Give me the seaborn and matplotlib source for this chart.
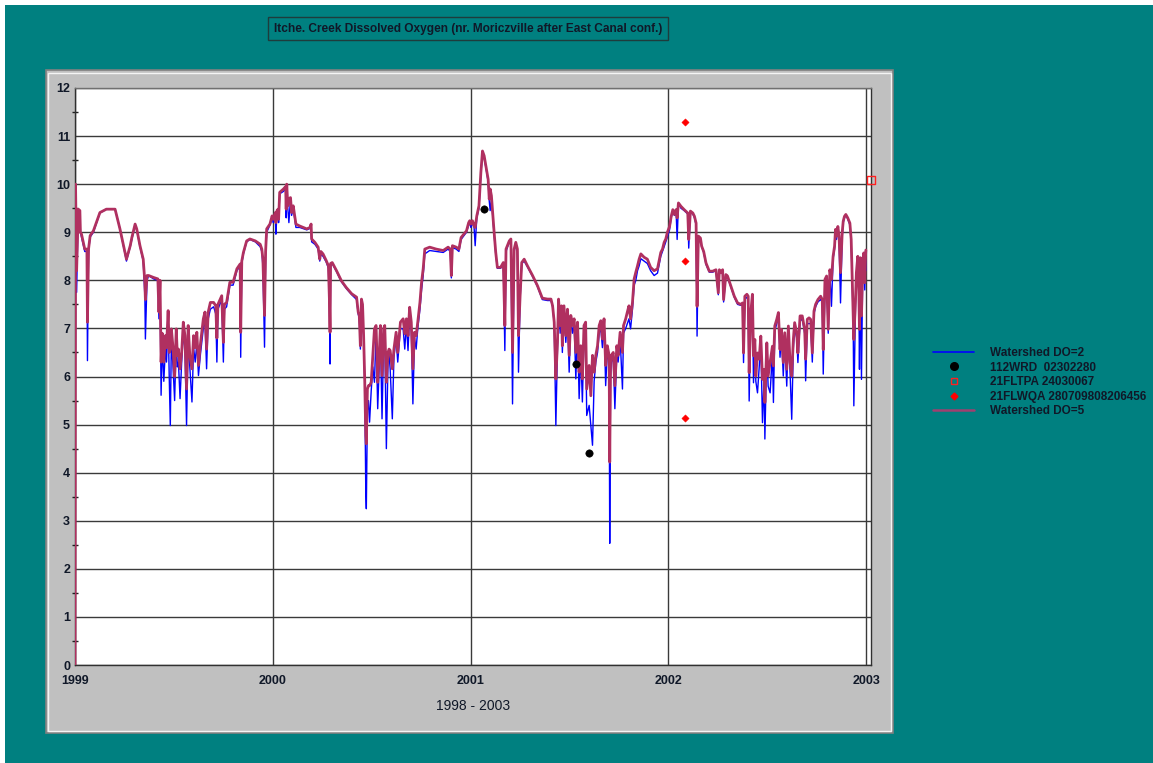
import numpy as np
import pandas as pd
import matplotlib
matplotlib.use("Agg")
import matplotlib.pyplot as plt
from matplotlib.patches import Rectangle
from matplotlib.lines import Line2D
import seaborn as sns

# ---------------- data ----------------
days_1999 = [0, 1, 3, 6, 9, 10, 12, 18, 22, 23, 25, 28, 34, 46, 58, 74, 83, 95, 102, 105, 111, 114, 120, 126, 129, 130,
             133, 136, 145, 153, 155, 157, 159, 161, 164, 167, 169, 172, 174, 176, 178, 181, 184, 187, 189, 191, 194, 197,
             200, 203, 206, 209, 212, 216, 219, 222, 225, 228, 232, 237, 240, 243, 246, 250, 256, 260, 262, 264, 271, 274,
             276, 280, 286, 292, 299, 305, 306, 308, 311, 317, 323, 333, 342, 345, 347, 350, 352, 354, 360, 364]
do5_1999 = [0, 10.0, 8.2, 9.48, 9.45, 9.0, 8.96, 8.65, 8.65, 7.13, 8.65, 8.93, 9.03, 9.41, 9.48, 9.48, 9.07, 8.44, 8.72, 8.89,
            9.17, 9.07, 8.72, 8.44, 7.96, 7.6, 8.1, 8.1, 8.06, 8.03, 7.34, 8.0, 6.3, 6.9, 6.3, 6.85, 6.6, 7.37, 6.5, 6.57,
            6.99, 6.6, 6.0, 6.99, 6.44, 6.57, 6.16, 6.5, 7.13, 6.85, 5.74, 7.06, 6.44, 6.16, 6.85, 6.6, 6.92, 6.23, 6.71,
            7.2, 7.34, 6.57, 7.34, 7.54, 7.54, 7.47, 6.8, 7.5, 7.68, 6.71, 7.5, 7.54, 7.96, 7.96, 8.24, 8.34, 6.92, 8.4,
            8.58, 8.82, 8.86, 8.82, 8.75, 8.65, 8.44, 7.27, 8.6, 9.07, 9.17, 9.34]
do2_1999 = [0, 10.0, 7.75, 9.48, 9.45, 9.0, 8.9, 8.6, 8.6, 6.33, 8.6, 8.9, 9.0, 9.4, 9.48, 9.48, 9.07, 8.4, 8.7, 8.85,
            9.15, 9.05, 8.7, 8.4, 7.68, 6.78, 8.0, 8.1, 8.03, 8.0, 7.2, 7.9, 5.61, 6.7, 5.9, 6.6, 6.3, 7.2, 6.0, 4.98,
            6.8, 6.2, 5.5, 6.8, 6.2, 6.3, 5.54, 6.3, 6.9, 6.6, 4.98, 6.8, 6.2, 5.47, 6.6, 6.3, 6.7, 6.02, 6.5,
            7.0, 7.2, 6.16, 7.2, 7.4, 7.45, 7.3, 6.3, 7.4, 7.6, 6.3, 7.4, 7.45, 7.9, 7.9, 8.2, 8.3, 6.4, 8.35,
            8.55, 8.8, 8.85, 8.8, 8.7, 8.6, 8.3, 6.61, 8.5, 9.0, 9.15, 9.3]

days_2000 = [1, 5, 6, 8, 10, 11, 13, 20, 24, 25, 26, 28, 30, 33, 35, 38, 43, 50, 63, 69, 71, 72, 78, 84, 87, 89, 93, 99,
             103, 105, 106, 107, 110, 118, 127, 136, 146, 155, 158, 160, 162, 164, 166, 168, 170, 172, 173, 175, 177,
             179, 182, 185, 188, 191, 194, 197, 199, 202, 205, 207, 210, 213, 215, 217, 221, 224, 228, 231, 236, 241,
             244, 247, 250, 253, 256, 259, 262, 265, 268, 272, 275, 278, 281, 290, 302, 315, 324, 328, 330, 332, 339,
             344, 348, 358, 362, 364]
do5_2000 = [9.27, 9.41, 9.2, 9.45, 9.48, 9.27, 9.83, 9.9, 9.95, 9.48, 10.0, 9.55, 9.7, 9.72, 9.41, 9.55, 9.17, 9.13, 9.07,
            9.1, 9.17, 8.86, 8.79, 8.69, 8.44, 8.6, 8.55, 8.41, 8.3, 7.54, 6.92, 8.35, 8.37, 8.2, 7.99, 7.85, 7.72, 7.65,
            7.34, 7.27, 6.64, 7.61, 7.5, 6.85, 5.95, 4.77, 4.6, 5.74, 5.81, 5.81, 5.88, 6.44, 6.99, 7.06, 5.88, 6.5, 7.06,
            6.02, 7.0, 7.06, 5.88, 6.5, 6.57, 6.54, 6.16, 6.57, 6.92, 6.5, 7.13, 7.2, 6.89, 7.2, 6.85, 7.44, 7.13, 6.16,
            6.92, 6.85, 7.13, 7.54, 7.96, 8.24, 8.65, 8.69, 8.65, 8.62, 8.69, 8.65, 8.1, 8.72, 8.69, 8.65, 8.89, 9.03,
            9.2, 9.24]
do2_2000 = [9.2, 9.3, 8.96, 9.4, 9.45, 9.2, 9.8, 9.85, 9.9, 9.3, 9.95, 9.5, 9.2, 9.7, 9.35, 9.5, 9.1, 9.1, 9.05,
            9.08, 9.15, 8.8, 8.75, 8.65, 8.4, 8.55, 8.5, 8.38, 8.25, 7.4, 6.26, 8.3, 8.35, 8.18, 7.97, 7.83, 7.7, 7.6,
            7.3, 7.2, 6.57, 7.55, 7.4, 6.8, 5.9, 3.6, 3.25, 5.3, 5.5, 5.05, 5.7, 6.2, 5.88, 6.9, 5.33, 6.3, 6.9,
            5.12, 6.8, 6.9, 4.5, 6.3, 6.44, 6.16, 5.12, 6.4, 6.8, 6.3, 7.0, 6.99, 6.57, 7.1, 6.54, 7.3, 6.99, 5.43,
            6.8, 6.57, 7.0, 7.4, 7.8, 8.1, 8.55, 8.62, 8.6, 8.58, 8.65, 8.6, 8.05, 8.68, 8.65, 8.6, 8.85, 9.0,
            9.15, 9.2]

days_2001 = [0, 3, 6, 8, 11, 15, 18.5, 21.5, 24.6, 27.7, 32, 34, 35.7, 38, 40, 43, 46, 49, 55, 60, 62.8, 65, 71, 74, 77,
             80, 83, 86, 88, 91, 94, 98.5, 104.6, 114, 123, 132, 141.6, 148, 151, 154, 157, 160, 162, 165, 167.4, 169,
             172, 175.4, 178.5, 181.6, 184.6, 187.7, 190.8, 193.9, 197, 200, 203, 206, 209, 212, 214, 218.5, 221.6,
             224.7, 227.7, 230.8, 234, 237, 240, 243, 246, 249, 252, 255.4, 256.5, 258, 259.7, 263, 266, 269.6, 272,
             275.7, 280, 282, 286, 289, 292, 295, 298.5, 301.6, 304.7, 307.8, 310.8, 314, 320, 326, 332, 338.5,
             344.7, 350.8, 354, 357, 360, 363]
do5_2001 = [9.17, 9.24, 9.13, 9.1, 9.34, 9.55, 10.24, 10.69, 10.59, 10.38, 10.1, 9.69, 9.9, 9.76, 9.45, 9.0, 8.58, 8.27,
            8.27, 8.37, 7.06, 8.65, 8.82, 8.86, 6.5, 8.65, 8.79, 8.65, 6.85, 7.68, 8.37, 8.44, 8.3, 8.1, 7.89, 7.63,
            7.61, 7.61, 7.47, 7.13, 5.95, 6.71, 7.61, 7.06, 7.47, 6.64, 7.47, 6.85, 7.4, 6.44, 7.27, 7.06, 7.2, 6.5,
            7.13, 6.09, 6.64, 5.95, 7.06, 7.13, 5.74, 6.23, 5.6, 6.44, 6.09, 6.44, 6.64, 7.06, 7.16, 6.78, 7.2, 6.23,
            6.64, 6.44, 4.22, 6.3, 6.44, 6.5, 5.81, 6.64, 6.44, 6.92, 6.5, 7.06, 7.2, 7.34, 7.47, 7.2, 7.54, 8.03,
            8.17, 8.3, 8.44, 8.55, 8.48, 8.44, 8.27, 8.2, 8.24, 8.58, 8.65, 8.79, 8.86, 9.0]
do2_2001 = [9.1, 9.2, 9.1, 8.72, 9.3, 9.5, 10.2, 10.65, 10.55, 10.35, 10.05, 9.65, 9.45, 9.7, 9.4, 8.95, 8.55, 8.25,
            8.25, 8.35, 6.54, 8.6, 8.8, 8.84, 5.43, 8.6, 8.75, 8.6, 6.09, 7.6, 8.35, 8.4, 8.28, 8.08, 7.87, 7.6,
            7.58, 7.58, 7.45, 7.1, 4.98, 6.6, 7.55, 6.9, 7.4, 6.5, 7.4, 6.71, 7.3, 6.09, 7.2, 6.9, 7.1, 5.95,
            7.0, 5.54, 6.5, 5.47, 6.9, 7.0, 5.19, 5.4, 4.98, 4.57, 5.9, 6.3, 6.5, 6.9, 7.0, 6.6, 7.1, 5.81,
            6.5, 6.3, 2.53, 6.0, 6.3, 6.4, 5.33, 6.5, 6.3, 6.8, 5.74, 6.9, 7.0, 7.1, 7.2, 6.99, 7.4, 7.9,
            8.0, 8.2, 8.3, 8.45, 8.4, 8.35, 8.2, 8.1, 8.15, 8.5, 8.6, 8.7, 8.8, 8.9]

days_2002 = [2, 5, 8, 11, 14, 16, 18.4, 23, 29, 35.6, 37.4, 40.5, 45, 48, 51, 52.8, 55.2, 59, 61.3, 65, 69.3, 75.4,
             81.6, 87.7, 92, 94, 97, 100, 101.8, 106, 109, 115.3, 121.5, 127.6, 133.7, 136.8, 138.6, 141, 144.8,
             147.2, 149, 152, 155, 157, 159.5, 161.3, 164.4, 167.5, 170.5, 173.6, 176.7, 178, 181.6, 184, 187.7, 192,
             193.8, 196.3, 200, 203, 206, 208.6, 212, 214.7, 218.4, 221.4, 224.5, 227.6, 230.6, 233, 236.8, 239, 243,
             247, 251.5, 253.3, 256.4, 259.5, 262.5, 265.6, 268.7, 271.7, 276, 281, 284, 285.8, 289, 292, 295, 298,
             301, 304, 306.7, 308.5, 310.4, 312.8, 315, 317.7, 320.8, 322.7, 325, 327.5, 331, 335, 337.4, 339, 341,
             342.3, 345.4, 347, 349.6, 351.5, 352.7, 354.5, 356.4, 358.8, 360.6, 362.5, 363.8, 364.5]
do5_2002 = [9.12, 9.33, 9.47, 9.37, 9.47, 9.3, 9.61, 9.54, 9.47, 9.4, 8.85, 9.44, 9.4, 9.33, 9.19, 7.46, 8.92, 8.88,
            8.71, 8.6, 8.36, 8.19, 8.19, 8.22, 7.74, 8.22, 8.16, 8.22, 7.6, 8.12, 8.09, 7.88, 7.67, 7.53, 7.5, 7.53,
            6.49, 7.67, 7.71, 7.67, 6.08, 7.33, 7.71, 6.43, 6.77, 6.01, 6.49, 6.36, 6.84, 5.94, 6.15, 5.46, 6.7, 6.01,
            6.29, 6.63, 6.22, 7.05, 7.19, 7.33, 6.56, 6.98, 6.29, 6.91, 6.15, 7.05, 6.29, 6.01, 6.77, 7.12, 6.91,
            6.49, 7.26, 7.26, 6.98, 6.36, 7.19, 7.22, 7.19, 6.49, 7.36, 7.5, 7.6, 7.67, 7.6, 6.56, 8.02, 8.09, 6.98,
            8.22, 8.02, 8.5, 8.71, 9.06, 8.92, 9.12, 8.92, 8.16, 8.99, 9.23, 9.33, 9.37, 9.3, 9.19, 8.85, 8.16, 7.26,
            6.77, 7.6, 8.16, 8.5, 7.81, 6.98, 8.47, 7.26, 8.36, 8.57, 7.95, 8.5, 8.63]
do2_2002 = [9.05, 9.3, 9.45, 9.35, 9.45, 8.85, 9.6, 9.5, 9.45, 9.38, 8.67, 9.4, 9.38, 9.3, 9.15, 6.84, 8.9, 8.85,
            8.7, 8.58, 8.33, 8.17, 8.17, 8.2, 7.7, 8.2, 8.14, 8.2, 7.55, 8.1, 8.07, 7.86, 7.65, 7.5, 7.48, 7.5,
            6.29, 7.6, 7.65, 7.6, 5.49, 7.2, 7.6, 5.87, 6.6, 5.9, 5.66, 6.2, 6.7, 5.04, 6.0, 4.7, 6.6, 5.8,
            5.66, 6.5, 5.46, 6.95, 7.1, 7.25, 6.4, 6.9, 6.01, 6.8, 5.8, 6.9, 6.1, 5.11, 6.6, 7.0, 6.8,
            6.29, 7.15, 7.2, 6.9, 5.91, 7.1, 7.1, 7.1, 6.3, 7.3, 7.45, 7.55, 7.6, 7.55, 6.05, 7.95, 8.0, 6.9,
            8.15, 7.46, 8.45, 8.65, 9.0, 8.85, 9.05, 8.85, 7.53, 8.9, 9.2, 9.3, 9.35, 9.28, 9.15, 8.8, 8.1, 7.2,
            5.39, 7.5, 8.1, 8.45, 7.7, 6.15, 8.4, 5.94, 8.3, 8.5, 7.8, 8.45, 8.2]

wrd_dates = ["2001-01-25", "2001-07-15", "2001-08-08"]
wrd_values = [9.48, 6.26, 4.40]
fltpa_dates = ["2003-01-10"]
fltpa_values = [10.09]
flwqa_dates = ["2002-01-31", "2002-01-31", "2002-01-31"]
flwqa_values = [11.29, 8.40, 5.14]

title_text = "Itche. Creek Dissolved Oxygen (nr. Moriczville after East Canal conf.)"
x_label = "1998 - 2003"
legend_labels = ["Watershed DO=2", "112WRD  02302280", "21FLTPA 24030067",
                 "21FLWQA 280709808206456", "Watershed DO=5"]
year_ticks = ["1999", "2000", "2001", "2002", "2003"]

# ---------------- build frames ----------------
def build(year, days, a, b):
    base = pd.Timestamp(f"{year}-01-01")
    t = base + pd.to_timedelta(np.array(days, dtype=float), unit="D")
    return pd.DataFrame({"date": t, "do5": a, "do2": b})

ts = pd.concat([build(1999, days_1999, do5_1999, do2_1999),
                build(2000, days_2000, do5_2000, do2_2000),
                build(2001, days_2001, do5_2001, do2_2001),
                build(2002, days_2002, do5_2002, do2_2002)], ignore_index=True)

wrd = pd.DataFrame({"date": pd.to_datetime(wrd_dates), "v": wrd_values})
fltpa = pd.DataFrame({"date": pd.to_datetime(fltpa_dates), "v": fltpa_values})
flwqa = pd.DataFrame({"date": pd.to_datetime(flwqa_dates), "v": flwqa_values})

# ---------------- style ----------------
sns.set_style("white")
plt.rcParams["font.family"] = ["Liberation Sans", "DejaVu Sans"]

TEAL = "#008080"
TXT = "#101828"
BLUE = "#0000FF"
PINK = "#B03060"
W, H = 1153, 763

fig = plt.figure(figsize=(W / 100, H / 100), dpi=100, facecolor="white")

def px_rect(x0, y0, x1, y1, **kw):
    return Rectangle((x0 / W, 1 - y1 / H), (x1 - x0) / W, (y1 - y0) / H,
                     transform=fig.transFigure, **kw)

fig.patches.append(px_rect(5, 5, W + 2, H + 2, facecolor=TEAL, edgecolor="none", zorder=0))
fig.patches.append(px_rect(46, 70, 893, 733, facecolor="#C0C0C0", edgecolor="#808080", lw=1.2, zorder=1))
fig.patches.append(px_rect(48.5, 72.5, 891, 731, facecolor="none", edgecolor="#F4F4F4", lw=1.0, zorder=1))
fig.patches.append(px_rect(268, 17, 668, 40, facecolor=TEAL, edgecolor="#1E3C3C", lw=1.0, zorder=1))
fig.text(468 / W, 1 - 29 / H, title_text, ha="center", va="center", fontsize=8.6,
         fontweight="bold", color=TXT, zorder=3)

ax = fig.add_axes([75 / W, 1 - 665 / H, (871 - 75) / W, (665 - 88) / H])
ax.set_facecolor("white")
ax.set_zorder(2)

sns.lineplot(data=ts, x="date", y="do2", ax=ax, color=BLUE, lw=1.0, estimator=None, sort=False, zorder=3)
sns.lineplot(data=ts, x="date", y="do5", ax=ax, color=PINK, lw=2.0, estimator=None, sort=False, zorder=4)
sns.scatterplot(data=wrd, x="date", y="v", ax=ax, color="black", marker="o", s=28, edgecolor="black", zorder=6)
sns.scatterplot(data=fltpa, x="date", y="v", ax=ax, marker="s", s=28, facecolor="none",
                edgecolor="#FF2020", linewidth=1.0, zorder=6, clip_on=False)
sns.scatterplot(data=flwqa, x="date", y="v", ax=ax, color="#FF0000", marker="D", s=14,
                edgecolor="#FF0000", zorder=6)

ax.set_xlim(pd.Timestamp("1999-01-01"), pd.Timestamp("2003-01-10"))
ax.set_ylim(0, 12)
ax.set_yticks(range(0, 13))
ax.set_yticks(np.arange(0.5, 12, 1.0), minor=True)
ax.set_xticks(pd.to_datetime([f"{y}-01-01" for y in year_ticks]))
ax.set_xticklabels(year_ticks)
ax.grid(True, which="major", axis="both", color="#3A3A3A", lw=1.0)
ax.set_axisbelow(True)
ax.tick_params(axis="both", which="major", length=3, direction="inout", width=1, color="#202020",
               labelsize=9, labelcolor=TXT, pad=2)
ax.tick_params(axis="x", which="major", pad=6)
ax.tick_params(axis="y", which="minor", length=4, direction="inout", width=1, color="#202020", left=True)
for lab in ax.get_xticklabels() + ax.get_yticklabels():
    lab.set_fontweight("bold")
ax.set_xlabel(x_label, fontsize=10, color=TXT, labelpad=8)
ax.set_ylabel("")
for side, sp in ax.spines.items():
    sp.set_color("#303030")
    sp.set_linewidth(1.0)
ax.spines["top"].set_color("#707070")

handles = [Line2D([], [], color=BLUE, lw=1.2),
           Line2D([], [], color="black", marker="o", ls="none", ms=5.5),
           Line2D([], [], color="#FF2020", marker="s", ls="none", ms=5, mfc="none", mew=1.0),
           Line2D([], [], color="#FF0000", marker="D", ls="none", ms=3.5),
           Line2D([], [], color="#A04070", lw=1.8)]
leg = fig.legend(handles, legend_labels, loc="upper left", bbox_to_anchor=(933 / W, 1 - 347 / H),
                 frameon=False, fontsize=8.5, handlelength=3.5, handletextpad=1.3, labelspacing=0.22,
                 borderaxespad=0, borderpad=0)
for t in leg.get_texts():
    t.set_fontweight("bold")
    t.set_color(TXT)

fig.savefig("out.png", dpi=100, facecolor="white")
